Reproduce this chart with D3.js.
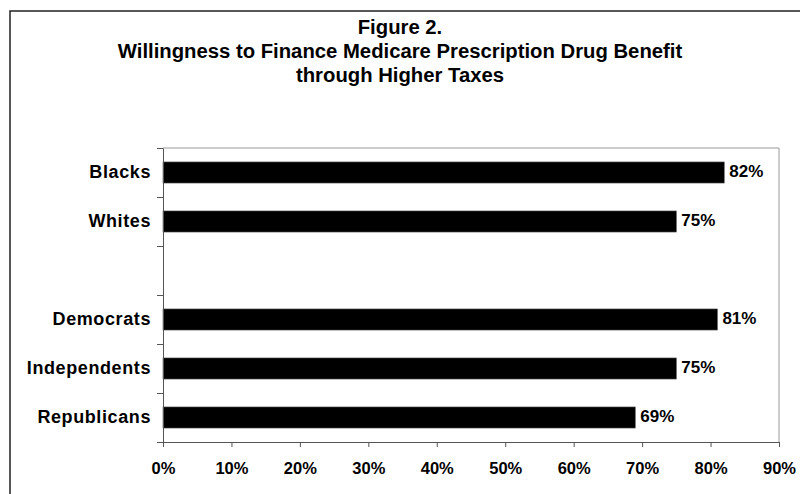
<!DOCTYPE html>
<html>
<head>
<meta charset="utf-8">
<script src="https://cdn.jsdelivr.net/npm/d3@7"></script>
<style>
html,body{margin:0;padding:0;background:#fff;}
svg{display:block;}
text{font-family:Arial,"Liberation Sans",Helvetica,sans-serif;font-weight:bold;fill:#000;}
</style>
</head>
<body>
<svg id="chart" width="800" height="494"></svg>
<script>
const titleLines = ["Figure 2.", "Willingness to Finance Medicare Prescription Drug Benefit", "through Higher Taxes"];
const categories = ["Blacks", "Whites", "", "Democrats", "Independents", "Republicans"];
const values = [82, 75, null, 81, 75, 69];
const xTicks = [0, 10, 20, 30, 40, 50, 60, 70, 80, 90];

const svg = d3.select("#chart");
const W = 800, H = 494;
const m = {left: 163, right: 21, top: 148, bottom: 52};
const pw = W - m.left - m.right, ph = H - m.top - m.bottom;

// outer frame
svg.append("rect").attr("x", 10).attr("y", 11).attr("width", 800).attr("height", 500)
  .attr("fill", "none").attr("stroke", "#222").attr("stroke-width", 1.5);

// title
svg.append("g").selectAll("text").data(titleLines).join("text")
  .attr("x", 400).attr("y", (d, i) => 33.5 + i * 24)
  .attr("text-anchor", "middle").style("font-size", "20.3px").text(d => d);

const x = d3.scaleLinear().domain([0, 90]).range([0, pw]);
const pad = 0.57;
const y = d3.scaleBand().domain(d3.range(categories.length)).range([0, ph])
  .paddingInner(pad).paddingOuter(pad / 2);
const ySlot = d3.scaleLinear().domain([0, categories.length]).range([0, ph]);

const g = svg.append("g").attr("transform", `translate(${m.left},${m.top})`);

// plot border (top & right)
g.append("path").attr("d", `M0,0H${pw}V${ph}`).attr("fill", "none")
  .attr("stroke", "#9a9a9a").attr("stroke-width", 1);

// bars
const data = categories.map((c, i) => ({c, v: values[i], i})).filter(d => d.v != null);
g.selectAll("rect.bar").data(data).join("rect").attr("class", "bar")
  .attr("x", 0).attr("y", d => y(d.i)).attr("width", d => x(d.v)).attr("height", y.bandwidth())
  .attr("fill", "#000").attr("stroke", "#555").attr("stroke-width", 0.6);

// value labels
g.selectAll("text.val").data(data).join("text").attr("class", "val")
  .attr("x", d => x(d.v) + 5).attr("y", d => y(d.i) + y.bandwidth() / 2 - 1)
  .attr("dy", "0.35em").style("font-size", "17px").text(d => d.v + "%");

// x axis
const xAxis = g.append("g").attr("transform", `translate(0,${ph})`)
  .call(d3.axisBottom(x).tickValues(xTicks).tickFormat(d => d + "%").tickSize(5).tickPadding(15).tickSizeOuter(0));
xAxis.select(".domain").attr("stroke", "#555");
xAxis.selectAll(".tick line").attr("stroke", "#555");
xAxis.selectAll("text").style("font-size", "16.5px").attr("font-family", null);

// y axis ticks at slot boundaries
const yTickAxis = g.append("g")
  .call(d3.axisLeft(ySlot).tickValues(d3.range(categories.length + 1)).tickFormat("").tickSize(6).tickSizeOuter(0));
yTickAxis.select(".domain").attr("stroke", "#555");
yTickAxis.selectAll(".tick line").attr("stroke", "#555");

// y category labels
const yLab = g.append("g")
  .call(d3.axisLeft(y).tickFormat(i => categories[i]).tickSize(0).tickPadding(12));
yLab.select(".domain").remove();
yLab.selectAll("text").style("font-size", "18px").style("letter-spacing", "0.6px").attr("font-family", null);
</script>
</body>
</html>
